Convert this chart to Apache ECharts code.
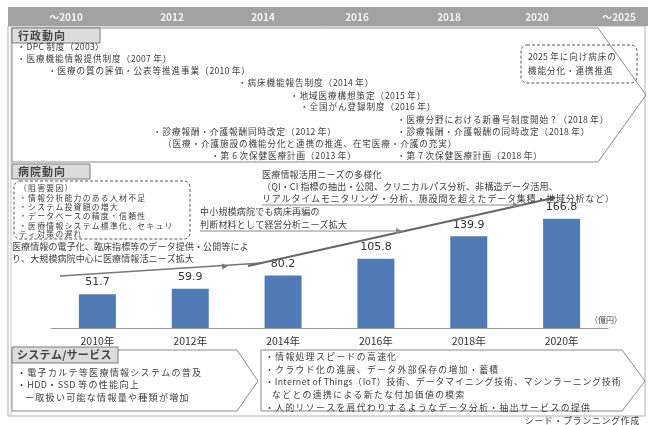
<!DOCTYPE html>
<html><head><meta charset="utf-8">
<script src="https://cdn.jsdelivr.net/npm/echarts@6/dist/echarts.min.js"></script>
<style>html,body{margin:0;padding:0;background:#fff}#c{width:648px;height:425px}</style>
</head><body><div id="c"></div>
<script>
const categories = ['2010年','2012年','2014年','2016年','2018年','2020年'];
const marketValues = [51.7, 59.9, 80.2, 105.8, 139.9, 166.8];
const timelineLabels = ['～2010','2012','2014','2016','2018','2020','～2025'];
const unitLabel = '（億円）';
const policyItems = [
  '・DPC 制度（2003）',
  '・医療機能情報提供制度（2007 年）',
  '・医療の質の評価・公表等推進事業（2010 年）',
  '・病床機能報告制度（2014 年）',
  '・地域医療構想策定（2015 年）',
  '・全国がん登録制度（2016 年）',
  '・医療分野における新番号制度開始？（2018 年）',
  '・診療報酬・介護報酬同時改定（2012 年）',
  '・診療報酬・介護報酬の同時改定（2018 年）',
  '（医療・介護施設の機能分化と連携の推進、在宅医療・介護の充実）',
  '・第 6 次保健医療計画（2013 年）',
  '・第 7 次保健医療計画（2018 年）'
];
const policyNote = ['2025 年に向け病床の', '機能分化・連携推進'];
const barrierItems = ['（阻害要因）','・情報分析能力のある人材不足','・システム投資額の増大','・データベースの精度・信頼性','・医療情報システム標準化、セキュリ','ティ対策の遅れ'];
const hospitalTrend1 = ['医療情報の電子化、臨床指標等のデータ提供・公開等によ','り、大規模病院中心に医療情報活ニーズ拡大'];
const hospitalTrend2 = ['中小規模病院でも病床再編の','判断材料として経営分析ニーズ拡大'];
const hospitalTrend3 = ['医療情報活用ニーズの多様化','（QI・CI 指標の抽出・公開、クリニカルパス分析、非構造データ活用、','リアルタイムモニタリング・分析、施設間を超えたデータ集積・地域分析など）'];
const systemItems1 = ['・電子カルテ等医療情報システムの普及','・HDD・SSD 等の性能向上','ー取扱い可能な情報量や種類が増加'];
const systemItems2 = ['・情報処理スピードの高速化','・クラウド化の進展、データ外部保存の増加・蓄積','・Internet of Things（IoT）技術、データマイニング技術、マシンラーニング技術','などとの連携による新たな付加価値の模索','・人的リソースを肩代わりするようなデータ分析・抽出サービスの提供'];
const sourceNote = 'シード・プランニング作成';

const FF = '"Noto Sans CJK JP", sans-serif';
const TXT = '#3c3c3c';
const mctx = document.createElement('canvas').getContext('2d');
// text with letter spacing (applied to full-width characters), drawn as a group of glyph runs
function T(text, x, y, size, opt) {
  opt = opt || {};
  const ls = opt.ls || 0;
  const font = (opt.weight||'normal')+' '+size+'px '+FF;
  const fill = opt.fill || TXT;
  if (!ls) {
    return {type:'text', x:x, y:y, z:10, style:{text:text, fill:fill, font:font, verticalAlign:'middle', align:opt.align||'left'}};
  }
  mctx.font = font;
  const chars = Array.from(text);
  const widths = chars.map(c => mctx.measureText(c).width + (c.charCodeAt(0) > 0x2000 ? ls : ls*0.3));
  const total = widths.reduce((a,b)=>a+b,0);
  let cx = opt.align === 'right' ? x - total : (opt.align === 'center' ? x - total/2 : x);
  const children = [];
  chars.forEach((c,i)=>{
    if (c !== ' ') children.push({type:'text', x:cx, y:y, z:10, style:{text:c, fill:fill, font:font, verticalAlign:'middle', align:'left'}});
    cx += widths[i];
  });
  return {type:'group', children:children};
}
function arrowHead(x, y, dx, dy, color) {
  const L = Math.hypot(dx, dy); const ux = dx/L, uy = dy/L; const s = 6, w = 3;
  return {type:'polygon', z:6, shape:{points:[[x,y],[x-ux*s-uy*w, y-uy*s+ux*w],[x-ux*s+uy*w, y-uy*s-ux*w]]}, style:{fill:color}};
}
const g = [];
// outer frame
g.push({type:'rect', z:1, shape:{x:8,y:26,width:637,height:390}, style:{fill:'none', stroke:'#b0b0b0', lineWidth:1}});
g.push({type:'line', z:1, shape:{x1:11,y1:26,x2:11,y2:416}, style:{stroke:'#c8c8c8', lineWidth:1}});
// header bar
g.push({type:'rect', z:2, shape:{x:8,y:7,width:640,height:19}, style:{fill:'#a2a2a2'}});
const hx = [66,172,263,357,449,537,619];
timelineLabels.forEach((t,i)=>g.push(T(t, hx[i], 17, 10, {fill:'#f4f4f4', weight:'bold', align:'center'})));
// section 1 pentagon
g.push({type:'polygon', z:2, shape:{points:[[12,28],[598,28],[646,95],[598,162],[12,162]]}, style:{fill:'none', stroke:'#8a8a8a', lineWidth:1}});
g.push({type:'rect', z:3, shape:{x:12,y:28,width:88,height:15}, style:{fill:'#dcdcdc', stroke:'#7a7a7a', lineWidth:1}});
g.push(T('行政動向', 18, 35.5, 11, {weight:'bold', fill:'#444', ls:1}));
const px = [17,17,48,238,290,300,397,153,397,163,211,397];
const py = [47,58.5,70.5,83,95.5,107,120,131.5,131.5,143.5,156,156];
policyItems.forEach((t,i)=>g.push(T(t, px[i], py[i], 8.6, {ls:0.9})));
g.push({type:'rect', z:3, shape:{x:521,y:45,width:116,height:38,r:6}, style:{fill:'none', stroke:'#555', lineWidth:1, lineDash:[3,2]}});
g.push(T(policyNote[0], 528, 57, 8.6, {ls:0.9}));
g.push(T(policyNote[1], 528, 70.5, 8.6, {ls:0.9}));
// section 2
g.push({type:'rect', z:3, shape:{x:12,y:164,width:78,height:15}, style:{fill:'#dcdcdc', stroke:'#7a7a7a', lineWidth:1}});
g.push(T('病院動向', 18, 171.5, 11, {weight:'bold', fill:'#444', ls:1}));
g.push({type:'rect', z:3, shape:{x:14,y:181,width:176,height:58,r:6}, style:{fill:'none', stroke:'#555', lineWidth:1, lineDash:[3,2]}});
const by = [188.5,197.8,207,216.3,225.6,234.5];
barrierItems.forEach((t,i)=>g.push(T(t, 19, by[i], 7.8, {ls:1.3})));
g.push(T(hospitalTrend1[0], 12, 246.5, 9, {ls:0.1}));
g.push(T(hospitalTrend1[1], 12, 259, 9, {ls:0.1}));
g.push(T(hospitalTrend2[0], 200, 212, 9, {ls:0.2}));
g.push(T(hospitalTrend2[1], 200, 225, 9, {ls:0.2}));
g.push(T(hospitalTrend3[0], 262, 175, 9, {ls:0.2}));
g.push(T(hospitalTrend3[1], 262, 187, 9, {ls:0.2}));
g.push(T(hospitalTrend3[2], 262, 198.5, 9, {ls:0.8}));
// arrows
g.push({type:'bezierCurve', z:5, shape:{x1:60,y1:276,x2:262,y2:263,cpx1:150,cpy1:270}, style:{stroke:'#777', lineWidth:1.5, fill:'none'}});
g.push(arrowHead(228, 266, 1, -0.1, '#777'));
g.push({type:'line', z:5, shape:{x1:248,y1:266,x2:553,y2:198}, style:{stroke:'#666', lineWidth:2}});
g.push(arrowHead(556, 197.3, 305, -68, '#666'));
g.push({type:'line', z:5, shape:{x1:200,y1:231,x2:405,y2:231}, style:{stroke:'#888', lineWidth:1}});
g.push(arrowHead(402, 231, 1, 0, '#888'));
g.push({type:'line', z:5, shape:{x1:262,y1:205,x2:522,y2:205}, style:{stroke:'#888', lineWidth:1}});
g.push(arrowHead(519, 205, 1, 0, '#888'));
g.push(T(unitLabel, 590, 320, 8));
// section 3
g.push({type:'polygon', z:2, shape:{points:[[12,350],[237,350],[258,381],[237,411],[12,411]]}, style:{fill:'none', stroke:'#8a8a8a', lineWidth:1}});
g.push({type:'polygon', z:2, shape:{points:[[261,350],[622,350],[645,381],[622,411],[261,411]]}, style:{fill:'none', stroke:'#8a8a8a', lineWidth:1}});
g.push({type:'rect', z:3, shape:{x:12,y:347,width:106,height:16}, style:{fill:'#dcdcdc', stroke:'#7a7a7a', lineWidth:1}});
g.push(T('システム/サービス', 17, 355, 11, {weight:'bold', fill:'#444', ls:0.3}));
const s1y = [372.5,385,397.5], s1x = [17,17,25];
systemItems1.forEach((t,i)=>g.push(T(t, s1x[i], s1y[i], 9, {ls:1.3})));
const s2y = [357,369.5,382,395,407.5], s2x = [265,265,265,272,265];
systemItems2.forEach((t,i)=>g.push(T(t, s2x[i], s2y[i], 8.8, {ls:i===2?1.0:1.4})));
g.push(T(sourceNote, 640, 421, 8.8, {align:'right', ls:0.8}));

const chart = echarts.init(document.getElementById('c'));
chart.setOption({
  animation:false,
  grid:{left:51, right:40, top:197, bottom:97},
  xAxis:{type:'category', data:categories, axisLine:{lineStyle:{color:'#9a9a9a'}}, axisTick:{show:false},
    axisLabel:{color:'#333', fontSize:10.5, fontFamily:FF, margin:8}},
  yAxis:{type:'value', min:0, max:200, show:false, splitLine:{show:false}},
  series:[{type:'bar', data:marketValues, barWidth:37, itemStyle:{color:'#4f7ab6'},
    label:{show:true, position:'top', color:'#333', fontSize:11, fontFamily:'"DejaVu Sans", sans-serif', distance:6}}],
  graphic:g
});
</script></body></html>
